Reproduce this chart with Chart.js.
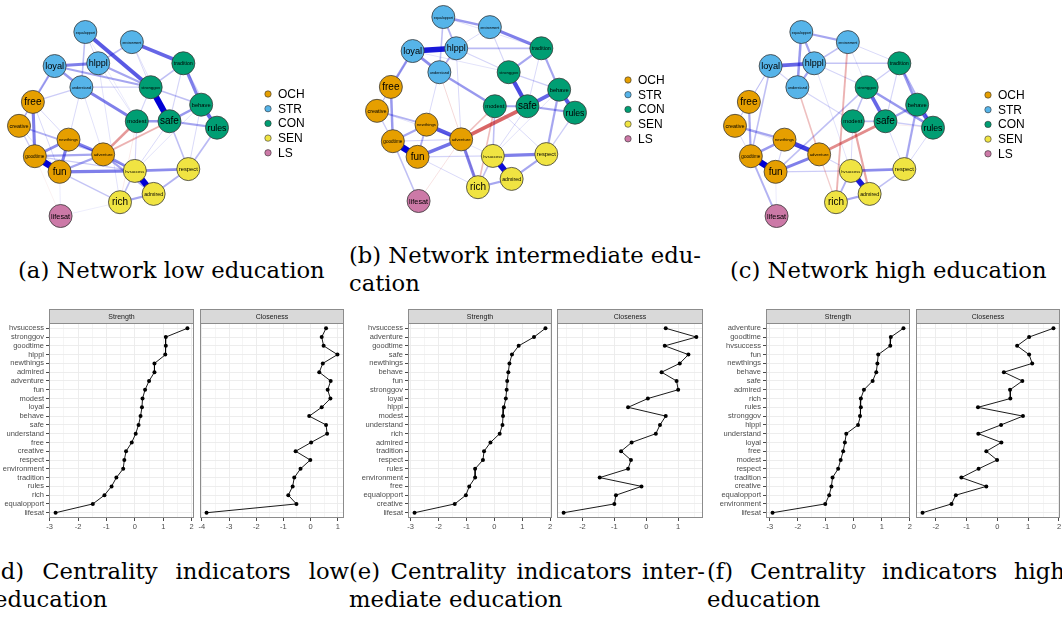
<!DOCTYPE html>
<html>
<head>
<meta charset="utf-8">
<script src="https://cdn.jsdelivr.net/npm/chart.js@4.4.1/dist/chart.umd.min.js"></script>
<style>
  html, body { margin: 0; padding: 0; }
  body { width: 1062px; height: 619px; overflow: hidden; background: #fff; position: relative; }
  canvas { position: absolute; }
  .cap { position: absolute; font-family: "DejaVu Serif", serif; font-size: 22.7px; line-height: 28px; color: #000; white-space: nowrap; }
  .just { display: flex; justify-content: space-between; transform-origin: 0 0; }
</style>
</head>
<body>
<canvas id="netLow" width="340" height="240" style="left:0;top:0"></canvas>
<canvas id="netMid" width="360" height="240" style="left:340px;top:0"></canvas>
<canvas id="netHigh" width="362" height="240" style="left:700px;top:0"></canvas>

<canvas id="strLow" width="197" height="230" style="left:0;top:305px"></canvas>
<canvas id="cloLow" width="152" height="230" style="left:196px;top:305px"></canvas>
<canvas id="strMid" width="196" height="230" style="left:359px;top:305px"></canvas>
<canvas id="cloMid" width="154" height="230" style="left:553px;top:305px"></canvas>
<canvas id="strHigh" width="196" height="230" style="left:717px;top:305px"></canvas>
<canvas id="cloHigh" width="152" height="230" style="left:912px;top:305px"></canvas>

<div class="cap" style="left:18px;top:256px">(a) Network low education</div>
<div class="cap just" data-w="352" style="left:349px;top:241px">(b) Network intermediate edu-</div>
<div class="cap" style="left:349px;top:269px">cation</div>
<div class="cap" style="left:730px;top:256px">(c) Network high education</div>

<div class="cap just" data-w="357" style="left:-8px;top:557px">(d) Centrality indicators low</div>
<div class="cap" style="left:-6px;top:585px">education</div>
<div class="cap just" data-w="356" style="left:349px;top:557px">(e) Centrality indicators inter-</div>
<div class="cap" style="left:349px;top:585px">mediate education</div>
<div class="cap just" data-w="358" style="left:707px;top:557px">(f) Centrality indicators high</div>
<div class="cap" style="left:707px;top:585px">education</div>

<script>
const FONT_SANS = '"Liberation Sans", Arial, Helvetica, sans-serif';
Chart.defaults.font.family = FONT_SANS;

// ---------- network nodes (shared averaged layout, range -1..1) ----------
const nodeNames = ['equalopport','environment','loyal','hlppl','understand',
  'tradition','stronggov','behave','modest','safe','rules',
  'free','creative','newthings','adventure','goodtime','fun',
  'hvsuccess','respect','admired','rich','lifesat'];
const nodeGroups = ['STR','STR','STR','STR','STR',
  'CON','CON','CON','CON','CON','CON',
  'OCH','OCH','OCH','OCH','OCH','OCH',
  'SEN','SEN','SEN','SEN','LS'];
const layoutX = [-0.33, 0.14, -0.64, -0.20, -0.37,
  0.66, 0.33, 0.84, 0.19, 0.52, 1.00,
  -0.86, -1.00, -0.50, -0.15, -0.84, -0.59,
  0.17, 0.71, 0.36, 0.02, -0.58];
const layoutY = [1.00, 0.89, 0.63, 0.66, 0.40,
  0.66, 0.40, 0.21, 0.03, 0.03, -0.04,
  0.24, -0.02, -0.17, -0.33, -0.35, -0.52,
  -0.51, -0.49, -0.76, -0.85, -1.00];
const groupNames = ['OCH','STR','CON','SEN','LS'];
const groupColors = ['#E69F00','#56B4E9','#009E73','#F0E442','#CC79A7'];

// ---------- partial correlation edges: [node, node, weight] ----------
const edgesLow = [
  ['goodtime','fun',1.0], ['hvsuccess','admired',0.95], ['stronggov','safe',0.95],
  ['equalopport','stronggov',0.6], ['environment','tradition',0.55], ['behave','rules',0.55],
  ['tradition','behave',0.45], ['loyal','hlppl',0.45], ['understand','modest',0.45],
  ['free','goodtime',0.45], ['newthings','fun',0.45], ['newthings','goodtime',0.4],
  ['newthings','adventure',0.45], ['adventure','hvsuccess',0.4], ['fun','hvsuccess',0.45],
  ['hvsuccess','respect',0.4], ['goodtime','adventure',0.3], ['creative','adventure',0.25],
  ['loyal','understand',0.35], ['loyal','free',0.3], ['loyal','stronggov',0.3],
  ['hlppl','stronggov',0.3], ['hlppl','environment',0.22], ['understand','stronggov',0.15],
  ['equalopport','understand',0.2], ['modest','safe',0.35], ['safe','behave',0.35],
  ['safe','rules',0.3], ['tradition','stronggov',0.2], ['behave','stronggov',0.2],
  ['rules','respect',0.22], ['respect','safe',0.2], ['admired','rich',0.3],
  ['rich','hvsuccess',0.2], ['admired','respect',0.25], ['adventure','admired',0.3],
  ['fun','adventure',0.3], ['fun','rich',0.18], ['goodtime','hvsuccess',0.15],
  ['modest','adventure',-0.35], ['safe','adventure',-0.25], ['free','creative',0.2],
  ['creative','goodtime',0.15], ['free','understand',0.15], ['lifesat','fun',0.06],
  ['equalopport','hlppl',0.1], ['environment','stronggov',0.1], ['loyal','creative',0.1],
  ['understand','newthings',0.1], ['hlppl','modest',0.08], ['tradition','safe',0.12],
  ['behave','respect',0.1], ['modest','hvsuccess',0.12], ['modest','rich',-0.06],
  ['newthings','hvsuccess',0.1], ['free','newthings',0.1], ['creative','fun',0.08],
  ['lifesat','goodtime',-0.04], ['lifesat','rich',0.05], ['equalopport','modest',0.06],
  ['environment','safe',0.08], ['hlppl','rich',0.08], ['understand','adventure',0.08],
  ['tradition','rules',0.12], ['safe','hvsuccess',0.1], ['stronggov','modest',0.12],
  ['behave','hvsuccess',0.08], ['free','fun',0.1]
];
const edgesMid = [
  ['goodtime','fun',1.0], ['hvsuccess','admired',0.9], ['loyal','hlppl',0.85],
  ['stronggov','safe',0.65], ['behave','rules',0.6], ['safe','behave',0.55],
  ['safe','adventure',-0.55], ['newthings','adventure',0.6], ['fun','adventure',0.5],
  ['adventure','rich',0.45], ['hvsuccess','respect',0.45], ['environment','tradition',0.45],
  ['equalopport','environment',0.35], ['equalopport','hlppl',0.25], ['equalopport','understand',0.2],
  ['loyal','understand',0.4], ['hlppl','understand',0.25], ['loyal','free',0.35],
  ['free','goodtime',0.35], ['goodtime','newthings',0.3], ['newthings','fun',0.25],
  ['creative','newthings',0.25], ['understand','modest',0.35], ['tradition','stronggov',0.3],
  ['tradition','behave',0.3], ['hlppl','tradition',0.22], ['modest','safe',0.3],
  ['modest','hvsuccess',0.2], ['safe','rules',0.3], ['respect','behave',0.3],
  ['respect','rules',0.15], ['admired','respect',0.3], ['rich','admired',0.3],
  ['rich','hvsuccess',0.2], ['lifesat','goodtime',0.2], ['rich','modest',-0.2],
  ['understand','rich',-0.1], ['lifesat','adventure',-0.08], ['modest','adventure',-0.2],
  ['hlppl','stronggov',0.12], ['environment','stronggov',0.12], ['loyal','creative',0.1],
  ['creative','goodtime',0.15], ['hlppl','adventure',0.1], ['understand','newthings',0.1],
  ['stronggov','behave',0.15], ['environment','hlppl',0.1], ['free','creative',0.12],
  ['fun','hvsuccess',0.12], ['goodtime','adventure',0.12], ['tradition','safe',0.1],
  ['behave','hvsuccess',0.08], ['modest','respect',0.1], ['safe','hvsuccess',0.1],
  ['fun','rich',0.1], ['equalopport','tradition',0.08], ['loyal','stronggov',0.08],
  ['newthings','hvsuccess',0.08], ['creative','adventure',0.08]
];
const edgesHigh = [
  ['goodtime','fun',0.95], ['hvsuccess','admired',0.85], ['newthings','adventure',0.7],
  ['stronggov','safe',0.55], ['behave','rules',0.6], ['loyal','hlppl',0.55],
  ['safe','adventure',-0.4], ['environment','rich',-0.25], ['modest','admired',-0.3],
  ['understand','adventure',-0.2], ['adventure','rich',-0.15], ['fun','adventure',0.45],
  ['goodtime','newthings',0.35], ['hvsuccess','respect',0.4], ['stronggov','rules',0.35],
  ['tradition','behave',0.35], ['tradition','rules',0.25], ['equalopport','hlppl',0.3],
  ['equalopport','understand',0.35], ['hlppl','understand',0.3], ['equalopport','environment',0.3],
  ['environment','hlppl',0.2], ['hlppl','tradition',0.18], ['free','goodtime',0.3],
  ['free','creative',0.12], ['creative','newthings',0.3], ['goodtime','lifesat',0.25],
  ['loyal','goodtime',0.2], ['respect','behave',0.3], ['admired','rich',0.3],
  ['rich','hvsuccess',0.25], ['admired','respect',0.2], ['stronggov','modest',0.2],
  ['modest','safe',0.2], ['safe','behave',0.3], ['fun','hvsuccess',0.15],
  ['stronggov','fun',0.2], ['loyal','free',0.12], ['loyal','understand',0.12],
  ['hlppl','stronggov',0.12], ['understand','modest',0.12], ['tradition','stronggov',0.15],
  ['environment','tradition',0.1], ['tradition','safe',0.12], ['safe','rules',0.15],
  ['newthings','fun',0.12], ['creative','goodtime',0.1], ['adventure','hvsuccess',0.12],
  ['hlppl','hvsuccess',0.08], ['loyal','creative',0.08], ['modest','hvsuccess',0.1],
  ['rules','respect',0.1], ['safe','respect',0.1], ['lifesat','fun',0.06],
  ['creative','adventure',0.08], ['environment','stronggov',0.08], ['modest','rules',-0.05]
];

// ---------- centrality indices (z-scores) ----------
const namesLow = ['hvsuccess','stronggov','goodtime','hlppl','newthings','admired','adventure','fun','modest','loyal','behave','safe','understand','free','creative','respect','environment','tradition','rules','rich','equalopport','lifesat'];
const strengthLow = [1.85, 1.09, 1.09, 1.07, 0.69, 0.69, 0.50, 0.36, 0.27, 0.25, 0.20, 0.13, 0.03, -0.11, -0.31, -0.37, -0.41, -0.65, -0.82, -1.07, -1.48, -2.79];
const closenessLow = [0.57, 0.41, 0.48, 0.99, 0.45, 0.32, 0.74, 0.63, 0.73, 0.41, -0.05, 0.57, 0.61, 0.02, -0.55, -0.01, -0.37, -0.60, -0.66, -0.82, -0.52, -3.83];

const namesMid = ['hvsuccess','adventure','goodtime','safe','newthings','behave','fun','stronggov','loyal','hlppl','modest','understand','rich','admired','tradition','respect','rules','environment','free','equalopport','creative','lifesat'];
const strengthMid = [1.83, 1.42, 0.87, 0.63, 0.54, 0.50, 0.46, 0.44, 0.41, 0.34, 0.31, 0.29, 0.19, -0.14, -0.37, -0.41, -0.69, -0.69, -0.90, -1.02, -1.42, -2.86];
const closenessMid = [0.61, 1.57, 0.58, 1.32, 1.05, 0.48, 0.95, 1.00, 0.05, -0.57, 0.61, 0.43, 0.30, -0.46, -0.79, -0.48, -0.57, -1.46, -0.15, -0.95, -1.00, -2.59];

const namesHigh = ['adventure','goodtime','hvsuccess','fun','newthings','behave','safe','admired','rich','rules','stronggov','hlppl','understand','loyal','free','modest','respect','tradition','creative','equalopport','environment','lifesat'];
const strengthHigh = [1.77, 1.32, 1.30, 0.87, 0.84, 0.80, 0.67, 0.36, 0.25, 0.25, 0.22, 0.15, -0.27, -0.32, -0.38, -0.47, -0.56, -0.76, -0.80, -0.88, -1.02, -2.90];
const closenessHigh = [1.82, 1.03, 0.64, 1.03, 1.13, 0.21, 0.81, 0.41, 0.42, -0.63, 0.83, 0.12, -0.62, 0.13, -0.36, -0.01, -0.61, -1.17, -0.36, -1.35, -1.49, -2.43];

// ---------- caption lines: spread words across the given width ----------
document.querySelectorAll('.just').forEach(el => {
  const target = parseFloat(el.dataset.w);
  const words = el.textContent.trim().split(/\s+/);
  el.textContent = '';
  words.forEach(w => {
    const s = document.createElement('span');
    s.textContent = w;
    el.appendChild(s);
  });
  const fs = parseFloat(getComputedStyle(el).fontSize);
  const natural = [...el.children].reduce((t, c) => t + c.getBoundingClientRect().width, 0)
    + (words.length - 1) * fs * 0.3;
  if (natural > target) {
    el.style.width = natural + 'px';
    el.style.transform = `scaleX(${target / natural})`;
  } else {
    el.style.width = target + 'px';
  }
});

// ---------- plugins ----------
const nodeLabelPlugin = {
  id: 'nodeLabels',
  afterDatasetsDraw(chart) {
    const meta = chart.getDatasetMeta(0);
    const ctx = chart.ctx;
    ctx.save();
    ctx.textAlign = 'center';
    ctx.textBaseline = 'middle';
    ctx.fillStyle = '#000';
    meta.data.forEach((pt, i) => {
      const name = nodeNames[i];
      ctx.font = `100px ${FONT_SANS}`;
      const w1 = ctx.measureText(name).width / 100;
      const size = Math.min(10, 19 / w1);
      ctx.font = `${size.toFixed(2)}px ${FONT_SANS}`;
      ctx.fillText(name, pt.x, pt.y + 0.5);
    });
    ctx.restore();
  }
};

const groupLegendPlugin = {
  id: 'groupLegend',
  afterDraw(chart, args, opts) {
    const ctx = chart.ctx;
    ctx.save();
    ctx.font = `12px ${FONT_SANS}`;
    ctx.textBaseline = 'middle';
    ctx.textAlign = 'left';
    groupNames.forEach((g, i) => {
      const y = opts.y + i * 14.7;
      ctx.beginPath();
      ctx.arc(opts.x, y, 3.2, 0, Math.PI * 2);
      ctx.fillStyle = groupColors[i];
      ctx.fill();
      ctx.lineWidth = 0.6;
      ctx.strokeStyle = '#333';
      ctx.stroke();
      ctx.fillStyle = '#000';
      ctx.fillText(g, opts.x + 10, y + 0.5);
    });
    ctx.restore();
  }
};

const facetPlugin = {
  id: 'facetPanel',
  afterDraw(chart, args, opts) {
    const a = chart.chartArea;
    const ctx = chart.ctx;
    const L = Math.round(a.left) + 0.5, R = Math.round(a.right) - 0.5;
    const T = Math.round(a.top) + 0.5, B = Math.round(a.bottom) - 0.5;
    const sh = 14;
    ctx.save();
    ctx.strokeStyle = '#8c8c8c';
    ctx.lineWidth = 1;
    ctx.strokeRect(L, T, R - L, B - T);
    ctx.fillStyle = '#D9D9D9';
    ctx.fillRect(L, T - sh, R - L, sh);
    ctx.strokeRect(L, T - sh, R - L, sh);
    ctx.fillStyle = '#1A1A1A';
    ctx.font = `7px ${FONT_SANS}`;
    ctx.textAlign = 'center';
    ctx.textBaseline = 'middle';
    ctx.fillText(opts.title, (L + R) / 2, T - sh / 2 + 0.5);
    ctx.restore();
  }
};

// ---------- builders ----------
function networkChart(canvasId, edges, frame) {
  const cv = document.getElementById(canvasId);
  const W = cv.width, H = cv.height;
  const pos = name => {
    const i = nodeNames.indexOf(name);
    return { x: layoutX[i], y: layoutY[i] };
  };
  const sorted = edges.slice().sort((a, b) => Math.abs(b[2]) - Math.abs(a[2]));
  const edgeSets = sorted.map(([a, b, w]) => {
    const s = Math.abs(w);
    const rgb = w > 0 ? '0,0,213' : '191,0,0';
    return {
      data: [pos(a), pos(b)],
      showLine: true,
      borderColor: `rgba(${rgb},${Math.min(1, 0.05 + s).toFixed(3)})`,
      borderWidth: 0.4 + 6 * s,
      pointRadius: 0,
      pointHoverRadius: 0,
      order: 1,
      clip: false
    };
  });
  const nodeSet = {
    data: nodeNames.map((n, i) => ({ x: layoutX[i], y: layoutY[i] })),
    pointRadius: 11.5,
    pointHoverRadius: 11.5,
    pointBackgroundColor: nodeGroups.map(g => groupColors[groupNames.indexOf(g)]),
    pointBorderColor: '#3a3a3a',
    pointBorderWidth: 0.8,
    showLine: false,
    order: 0,
    clip: false
  };
  return new Chart(cv, {
    type: 'scatter',
    data: { datasets: [nodeSet, ...edgeSets] },
    options: {
      responsive: false,
      animation: false,
      events: [],
      layout: { padding: 0, autoPadding: false },
      plugins: {
        legend: { display: false },
        tooltip: { enabled: false },
        groupLegend: { x: frame.legendX, y: frame.legendY }
      },
      scales: {
        x: { type: 'linear', display: false, min: (0 - frame.cx) / frame.hx, max: (W - frame.cx) / frame.hx },
        y: { type: 'linear', display: false, min: (frame.cy - H) / frame.hy, max: frame.cy / frame.hy }
      }
    },
    plugins: [nodeLabelPlugin, groupLegendPlugin]
  });
}

function centralityChart(canvasId, names, values, title, withLabels) {
  const lo = Math.min(...values), hi = Math.max(...values);
  const pad = (hi - lo) * 0.05;
  const n = names.length;
  return new Chart(document.getElementById(canvasId), {
    type: 'scatter',
    data: {
      datasets: [{
        data: values.map((v, i) => ({ x: v, y: i })),
        showLine: true,
        borderColor: '#000',
        borderWidth: 0.9,
        pointRadius: 2,
        pointBackgroundColor: '#000',
        pointBorderWidth: 0,
        clip: false
      }]
    },
    options: {
      responsive: false,
      animation: false,
      events: [],
      layout: { padding: { top: 18, right: withLabels ? 3 : 4, left: 0, bottom: 0 }, autoPadding: false },
      plugins: {
        legend: { display: false },
        tooltip: { enabled: false },
        facetPanel: { title: title }
      },
      scales: {
        x: {
          type: 'linear',
          min: lo - pad,
          max: hi + pad,
          afterBuildTicks(scale) {
            const t = [];
            for (let v = Math.ceil(scale.min * 2) / 2; v <= scale.max + 1e-9; v += 0.5) {
              t.push({ value: Math.round(v * 2) / 2 });
            }
            scale.ticks = t;
          },
          afterFit(scale) { scale.height = 17; },
          border: { display: false },
          grid: {
            color: '#EBEBEB',
            lineWidth: c => (Number.isInteger(c.tick.value) ? 0.9 : 0.5),
            tickColor: c => (Number.isInteger(c.tick.value) ? '#333' : 'rgba(0,0,0,0)'),
            tickWidth: 0.9,
            tickLength: 3
          },
          ticks: {
            autoSkip: false,
            maxRotation: 0,
            padding: 1,
            color: '#4D4D4D',
            font: { size: 7.5 },
            callback: v => (Number.isInteger(v) ? String(v) : '')
          }
        },
        y: {
          type: 'linear',
          reverse: true,
          min: -0.6,
          max: n - 1 + 0.6,
          afterBuildTicks(scale) {
            scale.ticks = names.map((_, i) => ({ value: i }));
          },
          afterFit(scale) { scale.width = withLabels ? 49 : 4; },
          border: { display: false },
          grid: {
            color: '#EBEBEB',
            lineWidth: 0.9,
            drawTicks: withLabels,
            tickColor: '#333',
            tickLength: 3
          },
          ticks: {
            display: withLabels,
            autoSkip: false,
            padding: 2,
            color: '#4D4D4D',
            font: { size: 7.5 },
            callback: v => names[v]
          }
        }
      }
    },
    plugins: [facetPlugin]
  });
}

// ---------- draw ----------
networkChart('netLow', edgesLow, { cx: 118, cy: 124, hx: 99, hy: 92, legendX: 268, legendY: 94 });
networkChart('netMid', edgesMid, { cx: 136, cy: 109, hx: 99, hy: 92, legendX: 288, legendY: 80 });
networkChart('netHigh', edgesHigh, { cx: 134, cy: 124, hx: 99, hy: 92, legendX: 288, legendY: 95 });

centralityChart('strLow', namesLow, strengthLow, 'Strength', true);
centralityChart('cloLow', namesLow, closenessLow, 'Closeness', false);
centralityChart('strMid', namesMid, strengthMid, 'Strength', true);
centralityChart('cloMid', namesMid, closenessMid, 'Closeness', false);
centralityChart('strHigh', namesHigh, strengthHigh, 'Strength', true);
centralityChart('cloHigh', namesHigh, closenessHigh, 'Closeness', false);
</script>
</body>
</html>
